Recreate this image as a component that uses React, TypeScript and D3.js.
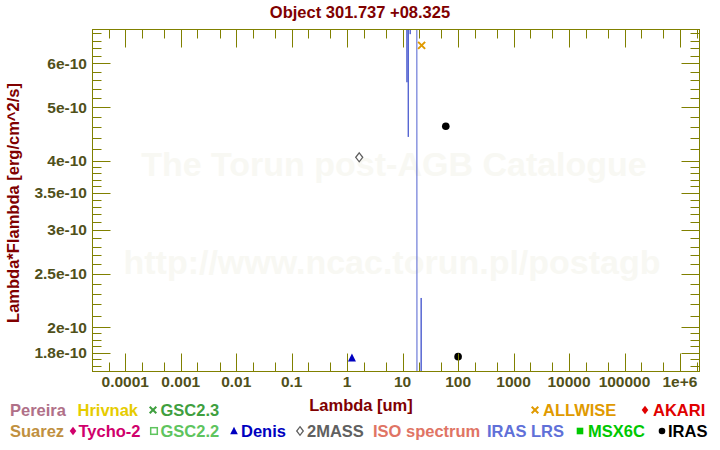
import React from "react";
import * as d3 from "d3";

// ---------- data ----------
const xTickValues = [1e-4, 1e-3, 1e-2, 1e-1, 1, 10, 100, 1000, 1e4, 1e5, 1e6];
const xTickLabels = ["0.0001", "0.001", "0.01", "0.1", "1", "10", "100", "1000", "10000", "100000", "1e+6"];
const yTickValues = [1.8e-10, 2e-10, 2.5e-10, 3e-10, 3.5e-10, 4e-10, 5e-10, 6e-10];
const yTickLabels = ["1.8e-10", "2e-10", "2.5e-10", "3e-10", "3.5e-10", "4e-10", "5e-10", "6e-10"];

const twoMassLambda = [1.65];
const twoMassFlux = [4.06e-10];
const denisLambda = [1.22];
const denisFlux = [1.76e-10];
const irasLambda = [60, 100];
const irasFlux = [4.62e-10, 1.77e-10];
const allwiseLambda = [22];
const allwiseFlux = [6.47e-10];
const lrsLambda = [11.7, 11.98, 12.1, 12.45, 12.65, 12.85, 13.55, 13.7, 13.85, 18.0, 18.15, 21.45, 21.6, 21.75, 22.6];
const lrsFlux = [1.5e-9, 5.55e-10, 1.5e-9, 1.5e-9, 4.42e-10, 1.5e-9, 1.5e-9, 6.78e-10, 1.5e-9, 1.5e-9, 1.2e-10, 1.2e-10, 2.26e-10, 1.2e-10, 1.2e-10];

const legendRow1Names = ["Pereira", "Hrivnak", "GSC2.3", "ALLWISE", "AKARI"];
const legendRow1Colors = ["#b07088", "#e6cc00", "#3f9f3f", "#e09a00", "#e00000"];
const legendRow1Markers = ["", "", "x", "x", "diamond"];
const legendRow2Names = ["Suarez", "Tycho-2", "GSC2.2", "Denis", "2MASS", "ISO spectrum", "IRAS LRS", "MSX6C", "IRAS"];
const legendRow2Colors = ["#c09040", "#d0006c", "#5ec45e", "#0000c0", "#606060", "#e07464", "#6070d8", "#00c800", "#000000"];
const legendRow2Markers = ["", "diamond", "square", "triangle", "odiamond", "", "", "fsquare", "circle"];

// ---------- layout ----------
const W = 720, H = 450;
const L = 92.5, R = 699.5, T = 29.5, B = 371.5;
const legendRow1TextX = [10, 77.5, 160.5, 543, 653];
const legendRow1MarkX = [0, 0, 153, 535, 645];
const legendRow2TextX = [10, 78.5, 160.5, 241, 307, 373, 487, 588, 668];
const legendRow2MarkX = [0, 73, 154, 234, 300, 0, 0, 580, 662];

const FONT = "'Liberation Sans', Arial, Helvetica, sans-serif";
const AXIS = "#808000";
const TICKTXT = "#50501a";
const DARKRED = "#800000";

const x = d3.scaleLog().domain([Math.pow(10, -4.591), Math.pow(10, 6.352)]).range([L, R]);
const y = d3.scaleLog().domain([1.664e-10, 6.912e-10]).range([B, T]);

function xMinor(): number[] {
  const out: number[] = [];
  for (let e = -5; e <= 6; e++) {
    for (const m of [2, 5]) {
      const v = m * Math.pow(10, e);
      const px = x(v);
      if (px > L + 0.5 && px < R - 0.5) out.push(v);
    }
  }
  return out;
}
function yMinor(): number[] {
  const out: number[] = [];
  const push = (a: number, b: number, s: number) => {
    for (let v = a; v < b - 1e-9; v += s) out.push(Math.round(v * 1000) / 1000);
  };
  push(1.65, 2, 0.05);
  push(2.1, 4, 0.1);
  push(4.2, 7, 0.2);
  const majors = [1.8, 2, 2.5, 3, 3.5, 4, 5, 6];
  return out
    .filter((m) => !majors.some((q) => Math.abs(q - m) < 1e-6))
    .map((m) => m * 1e-10)
    .filter((v) => y(v) > T + 0.5 && y(v) < B - 0.5);
}

function Marker({ type, cx, cy, color, s }: { type: string; cx: number; cy: number; color: string; s: number }) {
  if (type === "x")
    return (
      <path d={`M${cx - s},${cy - s}L${cx + s},${cy + s}M${cx - s},${cy + s}L${cx + s},${cy - s}`} stroke={color} strokeWidth={2} fill="none" />
    );
  if (type === "diamond")
    return <path d={`M${cx},${cy - s - 1}L${cx + s},${cy}L${cx},${cy + s + 1}L${cx - s},${cy}Z`} fill={color} />;
  if (type === "odiamond")
    return <path d={`M${cx},${cy - s - 1}L${cx + s},${cy}L${cx},${cy + s + 1}L${cx - s},${cy}Z`} fill="white" stroke={color} strokeWidth={1.3} />;
  if (type === "square") return <rect x={cx - s} y={cy - s} width={2 * s} height={2 * s} fill="none" stroke={color} strokeWidth={1.5} />;
  if (type === "fsquare") return <rect x={cx - s} y={cy - s} width={2 * s} height={2 * s} fill={color} />;
  if (type === "triangle") return <path d={`M${cx},${cy - s - 1}L${cx + s + 0.5},${cy + s}L${cx - s - 0.5},${cy + s}Z`} fill={color} />;
  if (type === "circle") return <circle cx={cx} cy={cy} r={s} fill={color} />;
  return null;
}

export default function App() {
  const lrsLine = d3
    .line<number>()
    .x((_, i) => x(lrsLambda[i]))
    .y((_, i) => y(lrsFlux[i]))(lrsFlux);
  const xm = xMinor();
  const ym = yMinor();
  const majorLen = 18, minorLen = 9;
  const row1Y = 416, row2Y = 437;

  return (
    <svg width={W} height={H} style={{ position: "absolute", left: 0, top: 0, background: "white" }} fontFamily={FONT}>
      <rect x={0} y={0} width={W} height={H} fill="white" />
      {/* watermark */}
      <text x={394} y={176} textAnchor="middle" fontSize={34} fontWeight="bold" fill="#f8f8f3">
        The Torun post-AGB Catalogue
      </text>
      <text x={392} y={274} textAnchor="middle" fontSize={34} fontWeight="bold" fill="#f8f8f3">
        http://www.ncac.torun.pl/postagb
      </text>

      {/* title */}
      <text x={360} y={18} textAnchor="middle" fontSize={16.5} fontWeight="bold" fill={DARKRED}>
        Object 301.737 +08.325
      </text>

      <defs>
        <clipPath id="plotclip">
          <rect x={L} y={T} width={R - L} height={B - T} />
        </clipPath>
      </defs>

      {/* data */}
      <g clipPath="url(#plotclip)">
        <path d={lrsLine || ""} fill="none" stroke="#5060d0" strokeWidth={1} />
        {twoMassLambda.map((l, i) => (
          <Marker key={"tm" + i} type="odiamond" cx={x(l)} cy={y(twoMassFlux[i])} color="#606060" s={3.5} />
        ))}
        {denisLambda.map((l, i) => (
          <Marker key={"de" + i} type="triangle" cx={x(l)} cy={y(denisFlux[i])} color="#0000c0" s={3.5} />
        ))}
        {irasLambda.map((l, i) => (
          <Marker key={"ir" + i} type="circle" cx={x(l)} cy={y(irasFlux[i])} color="#000000" s={3.8} />
        ))}
        {allwiseLambda.map((l, i) => (
          <Marker key={"aw" + i} type="x" cx={x(l)} cy={y(allwiseFlux[i])} color="#e09a00" s={3.5} />
        ))}
      </g>

      {/* frame */}
      <rect x={L} y={T} width={R - L} height={B - T} fill="none" stroke={AXIS} strokeWidth={1} />

      {/* x ticks */}
      {xTickValues.map((v) => {
        const px = Math.round(x(v)) + 0.5;
        return (
          <g key={"xt" + v}>
            <line x1={px} x2={px} y1={B} y2={B - majorLen} stroke={AXIS} />
            <line x1={px} x2={px} y1={T} y2={T + majorLen} stroke={AXIS} />
          </g>
        );
      })}
      {xm.map((v) => {
        const px = Math.round(x(v)) + 0.5;
        return (
          <g key={"xm" + v}>
            <line x1={px} x2={px} y1={B} y2={B - minorLen} stroke={AXIS} />
            <line x1={px} x2={px} y1={T} y2={T + minorLen} stroke={AXIS} />
          </g>
        );
      })}
      {xTickValues.map((v, i) => (
        <text key={"xl" + v} x={x(v)} y={387} textAnchor="middle" fontSize={15.5} fontWeight="bold" fill={TICKTXT}>
          {xTickLabels[i]}
        </text>
      ))}

      {/* y ticks */}
      {yTickValues.map((v) => {
        const py = Math.round(y(v)) + 0.5;
        return (
          <g key={"yt" + v}>
            <line x1={L} x2={L + majorLen} y1={py} y2={py} stroke={AXIS} />
            <line x1={R} x2={R - majorLen} y1={py} y2={py} stroke={AXIS} />
          </g>
        );
      })}
      {ym.map((v) => {
        const py = Math.round(y(v)) + 0.5;
        return (
          <g key={"ym" + v}>
            <line x1={L} x2={L + minorLen} y1={py} y2={py} stroke={AXIS} />
            <line x1={R} x2={R - minorLen} y1={py} y2={py} stroke={AXIS} />
          </g>
        );
      })}
      {yTickValues.map((v, i) => (
        <text key={"yl" + v} x={87} y={y(v) + 5.5} textAnchor="end" fontSize={15.5} fontWeight="bold" fill={TICKTXT}>
          {yTickLabels[i]}
        </text>
      ))}

      {/* axis titles */}
      <text x={361} y={411} textAnchor="middle" fontSize={16.5} fontWeight="bold" fill={DARKRED}>
        Lambda [um]
      </text>
      <text transform="translate(19,203) rotate(-90)" textAnchor="middle" fontSize={16.5} fontWeight="bold" fill={DARKRED}>
        Lambda*Flambda [erg/cm^2/s]
      </text>

      {/* legend */}
      {legendRow1Names.map((n, i) => (
        <g key={"l1" + n}>
          {legendRow1Markers[i] && (
            <Marker type={legendRow1Markers[i]} cx={legendRow1MarkX[i]} cy={row1Y - 6} color={legendRow1Colors[i]} s={3.3} />
          )}
          <text x={legendRow1TextX[i]} y={row1Y} fontSize={16.5} fontWeight="bold" fill={legendRow1Colors[i]}>
            {n}
          </text>
        </g>
      ))}
      {legendRow2Names.map((n, i) => (
        <g key={"l2" + n}>
          {legendRow2Markers[i] && (
            <Marker type={legendRow2Markers[i]} cx={legendRow2MarkX[i]} cy={row2Y - 6} color={legendRow2Colors[i]} s={3.3} />
          )}
          <text x={legendRow2TextX[i]} y={row2Y} fontSize={16.5} fontWeight="bold" fill={legendRow2Colors[i]}>
            {n}
          </text>
        </g>
      ))}
    </svg>
  );
}
